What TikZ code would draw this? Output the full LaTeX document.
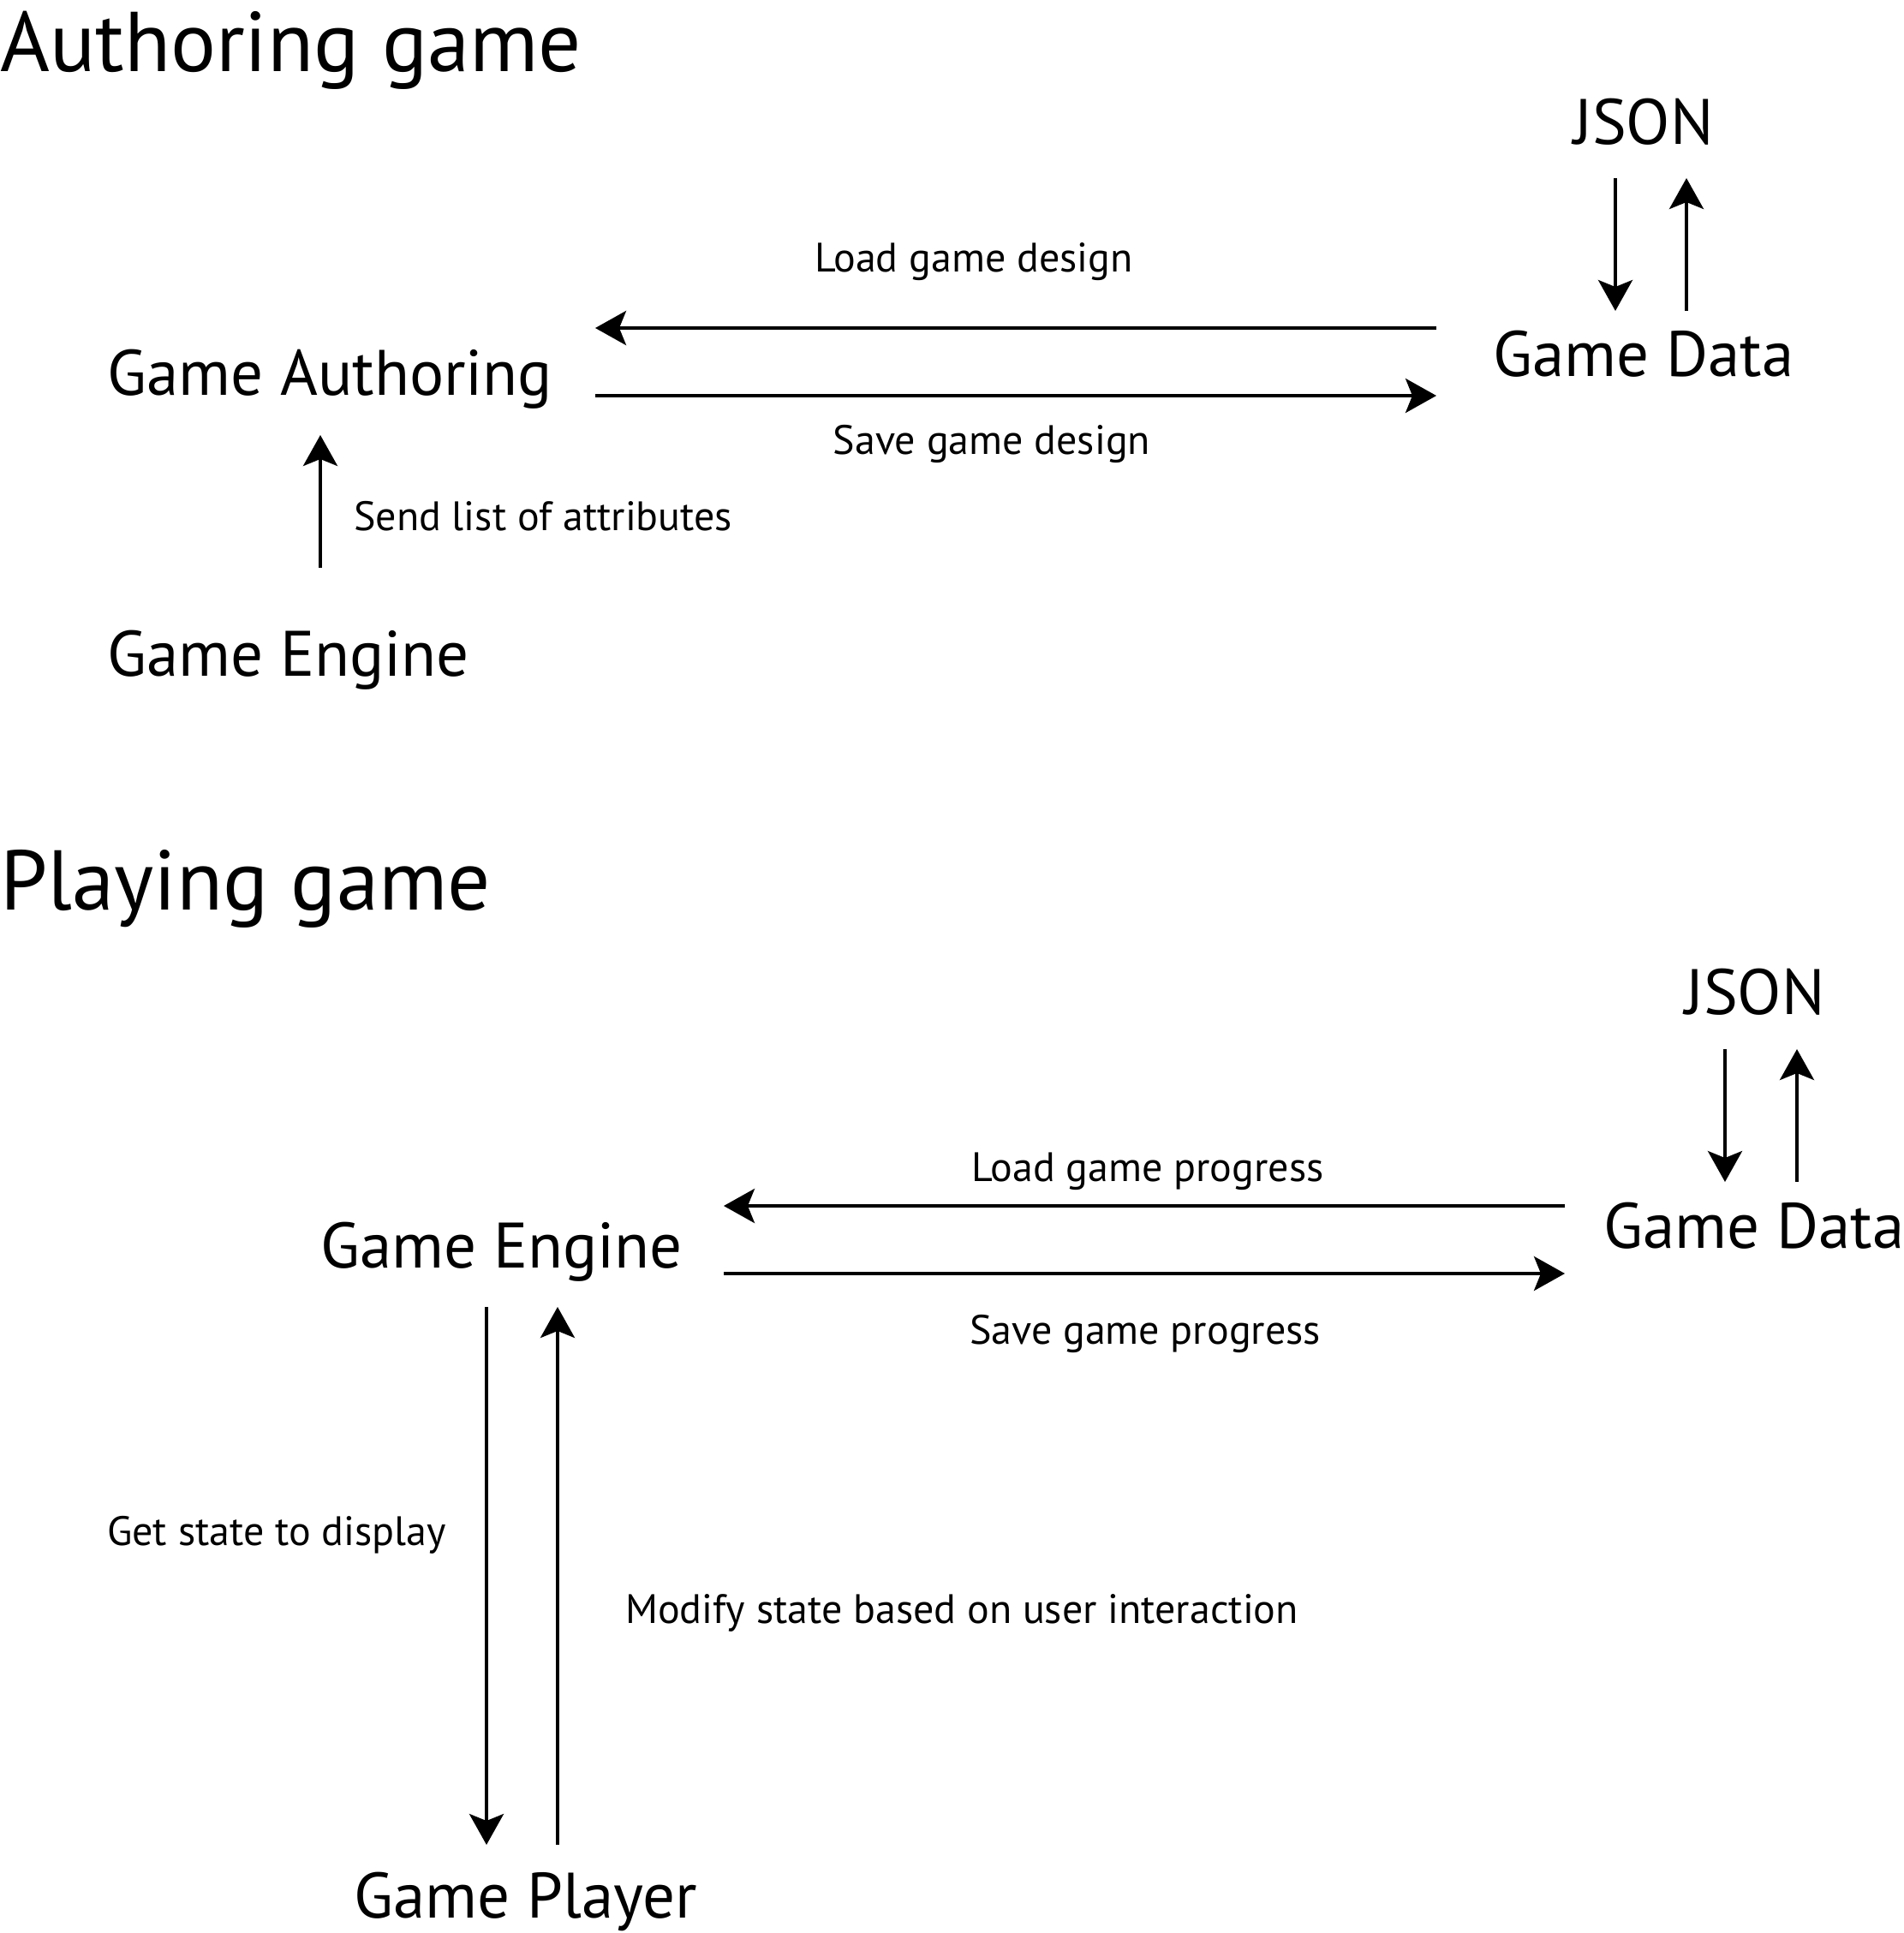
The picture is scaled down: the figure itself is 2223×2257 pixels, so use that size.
\documentclass[tikz,border=0pt]{standalone}
\usepackage{fontspec}
\setmainfont{PT Sans}
\usetikzlibrary{arrows.meta}
\begin{document}
\begin{tikzpicture}[x=1pt,y=-1pt,
  title/.style={inner sep=0pt,font=\fontsize{99}{100}\selectfont,anchor=base west},
  big/.style={inner sep=0pt,font=\fontsize{75}{80}\selectfont},
  lbl/.style={inner sep=0pt,font=\fontsize{48}{50}\selectfont},
  conn/.style={line width=4pt,-{Stealth[length=36pt,width=40pt,inset=8pt]}}]
\useasboundingbox (0,0) rectangle (2223,2257);
% Authoring
\node[title] (t1) at (0,83) {Authoring game};
\node[big,anchor=base] (json1) at (1919,168) {JSON};
\node[big,anchor=base] (gd1) at (1919,439) {Game Data};
\node[big,anchor=base west] (ga) at (125,461) {Game Authoring};
\node[big,anchor=base west] (ge1) at (125,789) {Game Engine};
\coordinate (a1s) at (1677,383); \coordinate (a1e) at (695,383);
\coordinate (a2s) at (695,462); \coordinate (a2e) at (1677,462);
\draw[conn] (a1s) -- (a1e);
\draw[conn] (a2s) -- (a2e);
\node[lbl,anchor=base] (l1) at (1137,317) {Load game design};
\node[lbl,anchor=base] (l2) at (1158,530) {Save game design};
\coordinate (j1a) at (1886,208); \coordinate (j1b) at (1886,363);
\coordinate (j1c) at (1969,363); \coordinate (j1d) at (1969,208);
\draw[conn] (j1a) -- (j1b);
\draw[conn] (j1c) -- (j1d);
\coordinate (s1) at (374,663); \coordinate (s2) at (374,508);
\draw[conn] (s1) -- (s2);
\node[lbl,anchor=base west] (l3) at (413,619) {Send list of attributes};
% Playing
\node[title] (t2) at (0,1062) {Playing game};
\node[big,anchor=base] (json2) at (2049,1184) {JSON};
\node[big,anchor=base] (gd2) at (2048,1457) {Game Data};
\node[big,anchor=base west] (ge2) at (374,1480) {Game Engine};
\node[big,anchor=base west] (gp) at (413,2239) {Game Player};
\coordinate (b1s) at (1827,1408); \coordinate (b1e) at (845,1408);
\coordinate (b2s) at (845,1487); \coordinate (b2e) at (1827,1487);
\draw[conn] (b1s) -- (b1e);
\draw[conn] (b2s) -- (b2e);
\node[lbl,anchor=base] (l4) at (1340,1379) {Load game progress};
\node[lbl,anchor=base] (l5) at (1337,1569) {Save game progress};
\coordinate (j2a) at (2014,1225); \coordinate (j2b) at (2014,1380);
\coordinate (j2c) at (2098,1380); \coordinate (j2d) at (2098,1225);
\draw[conn] (j2a) -- (j2b);
\draw[conn] (j2c) -- (j2d);
\coordinate (p1) at (568,1526); \coordinate (p2) at (568,2154);
\coordinate (p3) at (651,2154); \coordinate (p4) at (651,1526);
\draw[conn] (p1) -- (p2);
\draw[conn] (p3) -- (p4);
\node[lbl,anchor=base west] (l6) at (125,1804) {Get state to display};
\node[lbl,anchor=base west] (l7) at (730,1895) {Modify state based on user interaction};
\end{tikzpicture}
\end{document}
